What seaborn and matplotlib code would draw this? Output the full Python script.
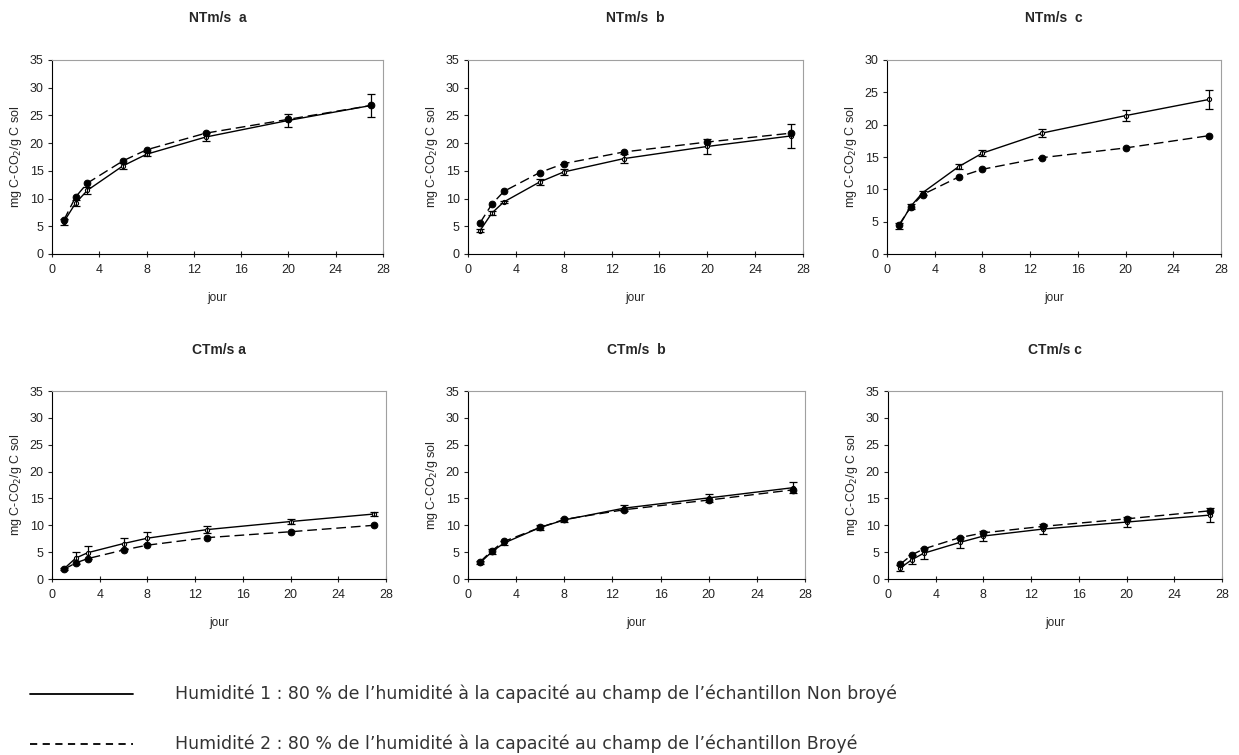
import matplotlib
matplotlib.use("Agg")
import matplotlib.pyplot as plt
import numpy as np
import pandas as pd
import seaborn as sns
from matplotlib.lines import Line2D

days = [1, 2, 3, 6, 8, 13, 20, 27]

titles = ["NTm/s  a", "NTm/s  b", "NTm/s  c", "CTm/s a", "CTm/s  b", "CTm/s c"]
ylabels = [
    r"mg C-CO$_{2}$/g C sol", r"mg C-CO$_{2}$/g C sol", r"mg C-CO$_{2}$/g C sol",
    r"mg C-CO$_{2}$/g C sol", r"mg C-CO$_{2}$/g sol", r"mg C-CO$_{2}$/g C sol",
]
ymax = [35, 35, 30, 35, 35, 35]

# humidite 1 (non broye), solid line with error bars
h1 = [
    [5.8, 9.2, 11.5, 15.9, 18.0, 21.1, 24.1, 26.8],
    [4.2, 7.4, 9.4, 13.0, 14.8, 17.2, 19.4, 21.3],
    [4.3, 7.4, 9.5, 13.5, 15.6, 18.7, 21.4, 23.9],
    [1.9, 3.9, 4.9, 6.6, 7.6, 9.2, 10.7, 12.1],
    [3.0, 5.1, 6.7, 9.6, 11.0, 13.2, 15.1, 17.0],
    [2.0, 3.6, 4.8, 6.8, 8.0, 9.3, 10.6, 11.9],
]
h1_err = [
    [0.5, 0.6, 0.6, 0.6, 0.4, 0.7, 1.1, 2.0],
    [0.3, 0.3, 0.2, 0.5, 0.6, 0.8, 1.4, 2.2],
    [0.5, 0.4, 0.3, 0.4, 0.5, 0.6, 0.9, 1.5],
    [0.2, 1.1, 1.2, 1.0, 1.1, 0.7, 0.5, 0.3],
    [0.3, 0.4, 0.4, 0.5, 0.4, 0.5, 0.8, 1.0],
    [0.6, 0.9, 1.0, 1.1, 1.0, 0.9, 1.0, 1.3],
]
# humidite 2 (broye), dashed line
h2 = [
    [6.1, 10.3, 12.8, 16.8, 18.8, 21.8, 24.3, 26.8],
    [5.6, 9.0, 11.3, 14.7, 16.3, 18.4, 20.2, 21.8],
    [4.5, 7.3, 9.2, 11.9, 13.1, 14.9, 16.4, 18.3],
    [1.8, 3.0, 3.8, 5.4, 6.3, 7.7, 8.8, 10.0],
    [3.2, 5.3, 7.0, 9.6, 11.1, 12.9, 14.7, 16.6],
    [2.7, 4.5, 5.6, 7.7, 8.6, 9.8, 11.2, 12.7],
]

legend_texts = [
    "Humidité 1 : 80 % de l\u2019humidité à la capacité au champ de l\u2019échantillon Non broyé",
    "Humidité 2 : 80 % de l\u2019humidité à la capacité au champ de l\u2019échantillon Broyé",
]

sns.set_style("ticks")
plt.rcParams["font.family"] = ["Liberation Sans", "DejaVu Sans"]

fig = plt.figure(figsize=(12.39, 7.55), dpi=100)

W, H = 1239, 755
boxes = [
    (52, 60, 331, 194), (468, 60, 335, 194), (887, 60, 334, 194),
    (52, 391, 334, 188), (468, 391, 337, 188), (888, 391, 334, 188),
]

for i, (x0, y0, w, h) in enumerate(boxes):
    ax = fig.add_axes([x0 / W, 1 - (y0 + h) / H, w / W, h / H])
    df = pd.DataFrame({
        "jour": days * 2,
        "val": h1[i] + h2[i],
        "serie": ["H1"] * len(days) + ["H2"] * len(days),
    })
    sns.lineplot(
        data=df, x="jour", y="val", style="serie", ax=ax,
        dashes={"H1": "", "H2": (7, 3.5)},
        markers={"H1": "o", "H2": "o"},
        color="black", linewidth=1.0, legend=False,
    )
    lines = ax.get_lines()
    lines[0].set_markersize(3)
    lines[0].set_markerfacecolor("white")
    lines[0].set_markeredgecolor("black")
    lines[0].set_markeredgewidth(0.8)
    lines[1].set_markersize(4.8)
    lines[1].set_markerfacecolor("black")
    lines[1].set_markeredgecolor("black")
    ax.errorbar(days, h1[i], yerr=h1_err[i], fmt="none", ecolor="black",
                elinewidth=0.9, capsize=3, capthick=0.9)

    ax.set_xlim(0, 28)
    ax.set_ylim(0, ymax[i])
    ax.set_xticks(range(0, 29, 4))
    ax.set_yticks(range(0, ymax[i] + 1, 5))
    ax.tick_params(labelsize=9, length=3, width=0.8, pad=3, colors="#222222")
    ax.tick_params(axis="x", direction="inout", length=4, pad=5)
    for s in ["left", "bottom"]:
        ax.spines[s].set_color("black")
        ax.spines[s].set_linewidth(0.8)
    for s in ["top", "right"]:
        ax.spines[s].set_visible(True)
        ax.spines[s].set_color("#a0a0a0")
        ax.spines[s].set_linewidth(0.8)
    ax.set_xlabel("jour", fontsize=8.5, labelpad=12)
    ax.set_ylabel(ylabels[i], fontsize=9, labelpad=4)
    ax.set_title(titles[i], fontsize=10, fontweight="bold", pad=27)

# legend explanation at the bottom
fig.add_artist(Line2D([30 / W, 133 / W], [1 - 694 / H] * 2, color="black", lw=1.3))
fig.add_artist(Line2D([30 / W, 133 / W], [1 - 744 / H] * 2, color="black", lw=1.3,
                      linestyle=(0, (4, 3))))
fig.text(175 / W, 1 - 694 / H, legend_texts[0], fontsize=12.5, va="center",
         family="DejaVu Sans", color="#333333")
fig.text(175 / W, 1 - 744 / H, legend_texts[1], fontsize=12.5, va="center",
         family="DejaVu Sans", color="#333333")

fig.savefig("out.png", dpi=100)
